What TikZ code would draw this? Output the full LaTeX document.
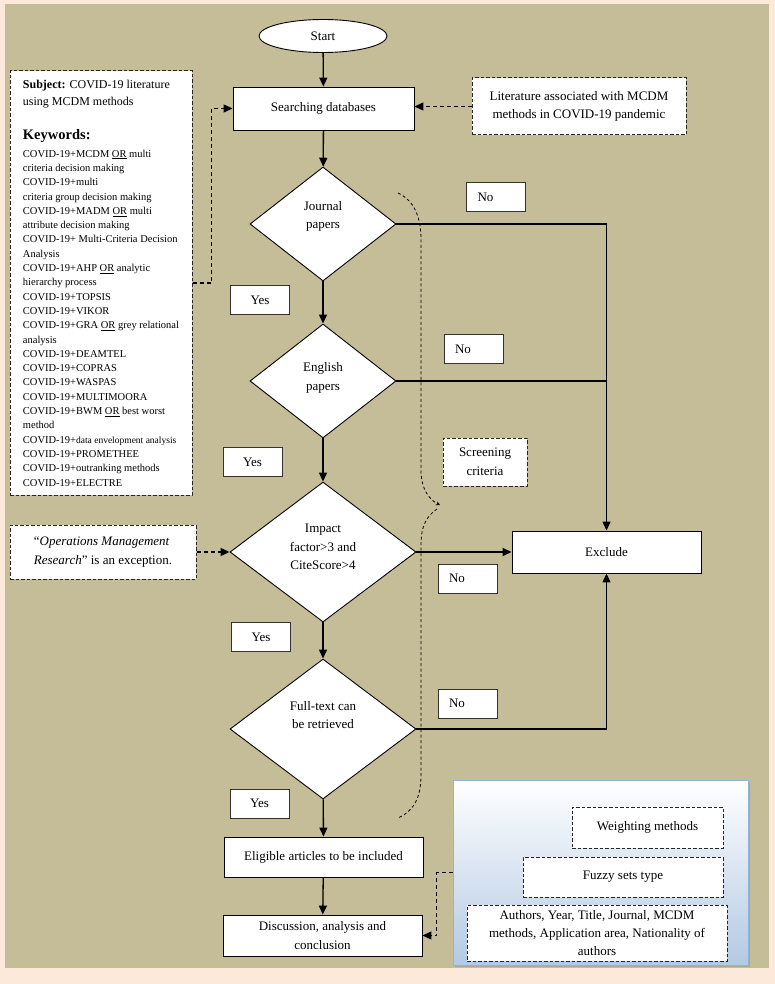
\documentclass[tikz,border=0pt]{standalone}
\usepackage{fontspec}
\setmainfont{Liberation Serif}
\usetikzlibrary{shapes.geometric, arrows.meta, shadows}
\definecolor{peach}{HTML}{FDE9D9}
\definecolor{khaki}{HTML}{C4BD97}
\definecolor{panelblue}{HTML}{B3C9E3}
\definecolor{paneledge}{HTML}{95B3D7}
\tikzset{proc/.style = {draw, fill = white, line width = 0.9pt, align = center, inner sep = 0}}
\tikzset{dbox/.style = {draw = black!85, dash pattern = on 3.5pt off 2pt, fill = white, line width = 1pt, align = center, inner sep = 0}}
\tikzset{decision/.style = {diamond, draw, fill = white, line width = 0.9pt, inner sep = 0}}
\tikzset{yesbox/.style = {draw = black!80, fill = white, line width = 0.8pt, minimum width = 59, minimum height = 29, inner sep = 0}}
\tikzset{nobox/.style = {yesbox, text width = 37, inner xsep = 11, align = left}}
\tikzset{flow/.style = {line width = 1.3pt, -{Triangle[length = 9pt, width = 8pt]}}}
\tikzset{dflow/.style = {line width = 1.3pt, dash pattern = on 4pt off 3pt, -{Triangle[length = 9pt, width = 8pt]}}}
\tikzset{screenline/.style = {line width = 0.8pt, dash pattern = on 3pt off 2.5pt}}

\begin{document}
\begin{tikzpicture}[x = 1pt, y = -1pt, font = \fontsize{13}{18.5}\selectfont]
    \useasboundingbox (0, 0) rectangle (775, 984);
    \fill [peach] (0, 0) rectangle (775, 984);
    \fill [khaki] (5, 4) rectangle (769, 968);

    \node [ellipse, draw, fill = white, line width = 0.9pt, minimum width = 128, minimum height = 33] (start) at (323, 36) {Start};
    \node [proc, minimum width = 181, minimum height = 43] (search) at (323.5, 108.5) {Searching databases};
    \node [dbox, minimum width = 214, minimum height = 57] (lit) at (579, 106.5) {Literature associated with MCDM\\methods in COVID-19 pandemic};

    \node [dbox, minimum width = 182, minimum height = 424, align = left, font = \fontsize{10.5}{14.3}\selectfont] (kw) at (101, 283) {%
        {\fontsize{12}{14.3}\selectfont\textbf{Subject:} COVID-19 literature}\\[2.7pt]
        {\fontsize{12}{14.3}\selectfont using MCDM methods}\\[19.7pt]
        {\fontsize{14.5}{14.3}\selectfont\bfseries Keywords:}\\[3.7pt]
        COVID-19+MCDM \underline{OR} multi\\
        criteria decision making\\
        COVID-19+multi\\
        criteria group decision making\\
        COVID-19+MADM \underline{OR} multi\\
        attribute decision making\\
        COVID-19+ Multi-Criteria Decision\\
        Analysis\\
        COVID-19+AHP \underline{OR} analytic\\
        hierarchy process\\
        COVID-19+TOPSIS\\
        COVID-19+VIKOR\\
        COVID-19+GRA \underline{OR} grey relational\\
        analysis\\
        COVID-19+DEAMTEL\\
        COVID-19+COPRAS\\
        COVID-19+WASPAS\\
        COVID-19+MULTIMOORA\\
        COVID-19+BWM \underline{OR} best worst\\
        method\\
        COVID-19+{\fontsize{9.5}{14.3}\selectfont data envelopment analysis}\\
        COVID-19+PROMETHEE\\
        COVID-19+outranking methods\\
        COVID-19+ELECTRE};

    \node [decision, minimum width = 146, minimum height = 114, label = {[align = center, yshift = 7.5pt]center:{Journal\\papers}}] (jp) at (323, 224) {};
    \node [decision, minimum width = 146, minimum height = 114, label = {[align = center, yshift = 3pt]center:{English\\papers}}] (ep) at (323, 381) {};
    \node [decision, minimum width = 186, minimum height = 140, label = {[align = center, yshift = 5pt]center:{Impact\\factor>3 and\\CiteScore>4}}] (impact) at (323, 552) {};
    \node [decision, minimum width = 186, minimum height = 140, label = {[align = center, yshift = 14pt]center:{Full-text can\\be retrieved}}] (full) at (323, 729) {};

    \node [proc, minimum width = 189, minimum height = 42] (exclude) at (606.5, 552) {Exclude};
    \node [proc, minimum width = 199, minimum height = 40] (elig) at (323.5, 857) {Eligible articles to be included};
    \node [proc, minimum width = 199, minimum height = 41] (disc) at (322.5, 935.5) {Discussion, analysis and\\conclusion};

    \node [dbox, minimum width = 186, minimum height = 54, align = left] (exc) at (103, 552) {“\textit{Operations Management}\\\textit{Research}” is an exception.};
    \node [dbox, minimum width = 84, minimum height = 48] (screen) at (485, 462) {Screening\\criteria};

    \node [nobox] (no1) at (496, 197) {No};
    \node [nobox] (no2) at (473.5, 349) {No};
    \node [nobox] (no3) at (467.5, 578.5) {No};
    \node [nobox] (no4) at (467.5, 703.5) {No};
    \node [yesbox] (yes1) at (260, 300) {Yes};
    \node [yesbox] (yes2) at (252.5, 462) {Yes};
    \node [yesbox] (yes3) at (261, 637) {Yes};
    \node [yesbox] (yes4) at (259.5, 803.5) {Yes};

    \node [draw = paneledge, line width = 0.9pt, top color = white, bottom color = panelblue, minimum width = 295, minimum height = 185, drop shadow = {shadow xshift = 2pt, shadow yshift = -2pt, opacity = 0.35}] (panel) at (600.5, 872.5) {};
    \node [dbox, minimum width = 151, minimum height = 41] (weight) at (647.5, 827.5) {Weighting methods};
    \node [dbox, minimum width = 200, minimum height = 40] (fuzzy) at (623, 877) {Fuzzy sets type};
    \node [dbox, minimum width = 260, minimum height = 56, font = \fontsize{13}{18}\selectfont] (authors) at (597, 933) {Authors, Year, Title, Journal, MCDM\\methods, Application area, Nationality of\\authors};

    \draw [flow] (start) -- (search);
    \draw [flow] (search) -- (jp);
    \draw [flow] (jp) -- (ep);
    \draw [flow] (ep) -- (impact);
    \draw [flow] (impact) -- (full);
    \draw [flow] (full) -- (elig);
    \draw [flow] (elig) -- (disc);

    \draw [flow] (jp.east) -| (exclude.north);
    \draw [line width = 1.3pt] (ep.east) -- (ep.east -| exclude.north);
    \draw [flow] (impact.east) -- (exclude.west);
    \draw [flow] (full.east) -| (exclude.south);

    \draw [dflow] (lit.west) -- (lit.west -| search.east);
    \draw [dflow] (kw.east) -- ++(19, 0) |- (search.west);
    \draw [dflow] (exc.east) -- (impact.west);
    \draw [dflow] (panel.west) -- ++(-16, 0) |- (disc.east);

    \draw [screenline, -{Stealth[length = 4pt, width = 4pt]}] (398, 193) .. controls (413, 200) and (421, 215) .. (421, 240) -- (421, 470) .. controls (421, 490) and (430, 500) .. (440, 505);
    \draw [screenline] (437, 509) .. controls (427, 516) and (421, 525) .. (421, 545) -- (421, 775) .. controls (421, 800) and (412, 812) .. (398, 818);
\end{tikzpicture}
\end{document}
